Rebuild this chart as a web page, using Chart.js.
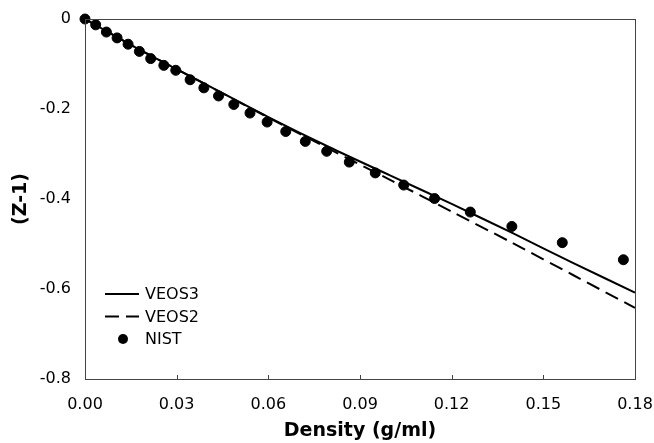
<!DOCTYPE html>
<html>
<head>
<meta charset="utf-8">
<script src="https://cdn.jsdelivr.net/npm/chart.js@4/dist/chart.umd.min.js"></script>
<style>
  html, body { margin: 0; padding: 0; background: #fff; }
  #wrap { width: 654px; height: 443px; }
</style>
</head>
<body>
<div id="wrap"><canvas id="zChart" width="654" height="443"></canvas></div>
<script>
// NIST data points (density g/ml, Z-1)
const nistDensity = [0, 0.0035, 0.0070, 0.0105, 0.0141, 0.0178, 0.0215, 0.0258, 0.0297, 0.0344, 0.0389, 0.0437, 0.0487,
    0.0540, 0.0596, 0.0657, 0.0721, 0.0791, 0.0865, 0.0950, 0.1043, 0.1144, 0.1261, 0.1397, 0.1562, 0.1762];
const nistZ = [0, -0.013, -0.029, -0.042, -0.056, -0.072, -0.088, -0.103, -0.114, -0.135, -0.153, -0.171, -0.190,
    -0.209, -0.229, -0.250, -0.272, -0.294, -0.318, -0.342, -0.369, -0.399, -0.429, -0.461, -0.497, -0.535];

// model curves
const curveDensity = [0, 0.02, 0.04, 0.06, 0.08, 0.10, 0.12, 0.14, 0.16, 0.18];
const veos3 = [0, -0.076, -0.147, -0.218, -0.285, -0.348, -0.411, -0.476, -0.543, -0.608];
const veos2 = [0, -0.076, -0.147, -0.219, -0.289, -0.358, -0.428, -0.498, -0.570, -0.642];

const xTicks = [0, 0.03, 0.06, 0.09, 0.12, 0.15, 0.18];
const yTicks = [0, -0.2, -0.4, -0.6, -0.8];

const toPts = (xs, ys) => xs.map((x, i) => ({ x: x, y: ys[i] }));

// ขอบกราฟ + legend วาดเอง
const framePlugin = {
    id: 'frame',
    afterDraw(chart) {
        const { ctx, chartArea: a } = chart;
        ctx.save();
        ctx.strokeStyle = '#444';
        ctx.lineWidth = 1;
        ctx.strokeRect(a.left + 0.5, a.top + 0.5, a.right - a.left, a.bottom - a.top);

        // small inner ticks on x axis
        const xs = chart.scales.x;
        xTicks.forEach(v => {
            const px = Math.round(xs.getPixelForValue(v)) + 0.5;
            ctx.beginPath();
            ctx.moveTo(px, a.bottom);
            ctx.lineTo(px, a.bottom - 4);
            ctx.stroke();
        });

        // legend
        const lx = a.left + 20, ly = a.top + 275;
        ctx.fillStyle = '#000';
        ctx.strokeStyle = '#000';
        ctx.lineWidth = 2;
        ctx.font = '16px "DejaVu Sans"';
        ctx.textBaseline = 'middle';
        chart.data.datasets.forEach((ds, i) => {
            const y = ly + i * 22.5;
            if (ds.showLine) {
                ctx.setLineDash(ds.borderDash || []);
                ctx.beginPath();
                ctx.moveTo(lx, y);
                ctx.lineTo(lx + 34, y);
                ctx.stroke();
                ctx.setLineDash([]);
            } else {
                ctx.beginPath();
                ctx.arc(lx + 18, y, 5, 0, Math.PI * 2);
                ctx.fill();
            }
            ctx.fillText(ds.label, lx + 40, y + 1);
        });
        ctx.restore();
    }
};

new Chart(document.getElementById('zChart').getContext('2d'), {
    type: 'scatter',
    data: {
        datasets: [
            {
                label: 'VEOS3',
                data: toPts(curveDensity, veos3),
                showLine: true,
                borderColor: '#000',
                borderWidth: 2,
                pointRadius: 0,
                tension: 0.3,
                clip: false
            },
            {
                label: 'VEOS2',
                data: toPts(curveDensity, veos2),
                showLine: true,
                borderColor: '#000',
                borderWidth: 2,
                borderDash: [14, 7],
                pointRadius: 0,
                tension: 0.3,
                clip: false
            },
            {
                label: 'NIST',
                data: toPts(nistDensity, nistZ),
                showLine: false,
                backgroundColor: '#000',
                borderColor: '#000',
                pointRadius: 5,
                pointHoverRadius: 5,
                clip: false
            }
        ]
    },
    options: {
        responsive: false,
        animation: false,
        events: [],
        layout: { padding: { top: 19, right: 19, left: 0, bottom: 0 } },
        plugins: { legend: { display: false }, tooltip: { enabled: false } },
        scales: {
            x: {
                type: 'linear',
                min: 0,
                max: 0.18,
                afterFit: (s) => { s.height = 64; s.paddingLeft = 0; s.paddingRight = 0; },
                afterBuildTicks: (s) => { s.ticks = xTicks.map(v => ({ value: v })); },
                grid: { display: false, drawTicks: false },
                border: { display: true, color: '#444', width: 1 },
                ticks: {
                    padding: 16,
                    color: '#000',
                    font: { family: 'DejaVu Sans', size: 16 },
                    callback: (v) => v.toFixed(2)
                },
                title: {
                    display: true,
                    text: 'Density (g/ml)',
                    color: '#000',
                    font: { family: 'DejaVu Sans', size: 19, weight: 'bold' },
                    padding: { top: 0, bottom: 1 }
                }
            },
            y: {
                type: 'linear',
                min: -0.8,
                max: 0,
                afterFit: (s) => { s.width = 85; s.paddingTop = 0; s.paddingBottom = 0; },
                afterBuildTicks: (s) => { s.ticks = yTicks.map(v => ({ value: v })); },
                grid: { display: false, drawTicks: false },
                border: { display: true, color: '#444', width: 1 },
                ticks: {
                    padding: 14,
                    color: '#000',
                    font: { family: 'DejaVu Sans', size: 16 },
                    callback: (v) => (v === 0 ? '0' : v.toFixed(1))
                },
                title: {
                    display: true,
                    text: '(Z-1)',
                    color: '#000',
                    font: { family: 'DejaVu Sans', size: 19, weight: 'bold' },
                    padding: { top: 10, bottom: 0 }
                }
            }
        }
    },
    plugins: [framePlugin]
});
</script>
</body>
</html>
